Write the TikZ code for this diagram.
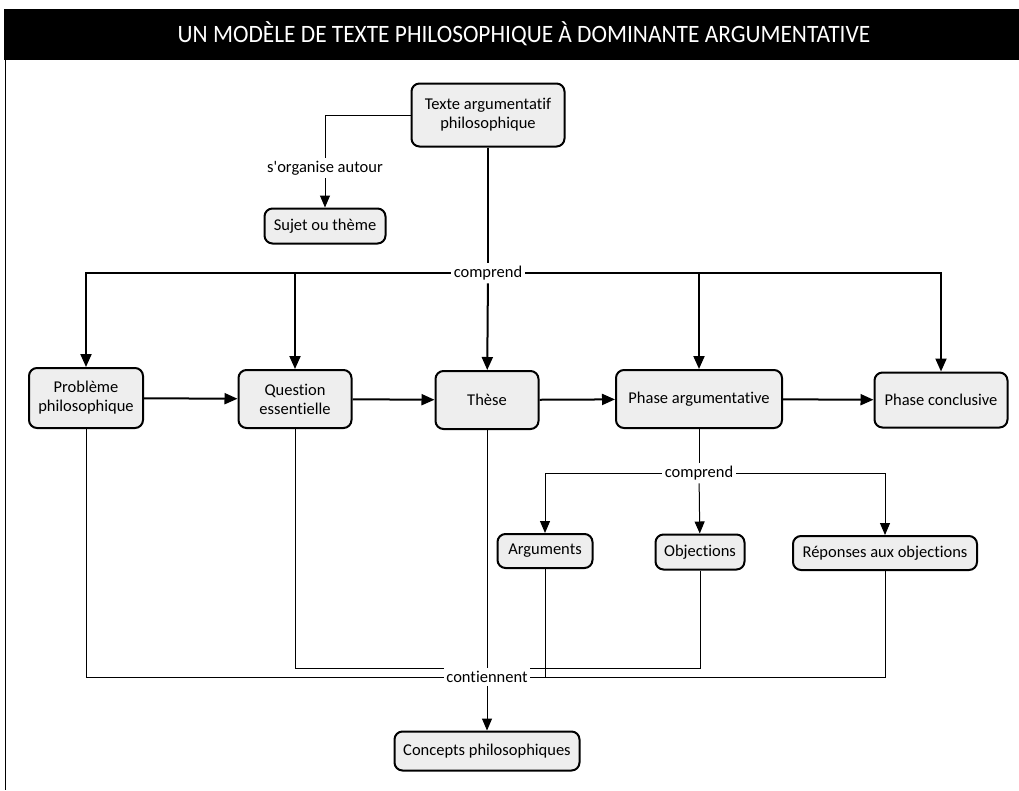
\documentclass[tikz,border=0pt]{standalone}
\usepackage{fontspec}
\setmainfont[Ligatures={NoCommon,TeXOff}]{Carlito}
\newfontfamily\titlefont[FakeStretch=0.935]{Carlito}
\usepackage{tikz}
\usetikzlibrary{arrows.meta}
\usetikzlibrary{positioning}

\tikzset{
  concept/.style={draw=black, line width=2pt, rounded corners=8pt, fill=gray!13,
    align=center, inner sep=2pt, font=\fontsize{16.5}{19}\selectfont},
  linkword/.style={fill=white, inner sep=3pt, font=\fontsize{16.5}{19}\selectfont},
  mainlink/.style={line width=2pt, -{Triangle[width=11pt,length=13pt]}},
  mainline/.style={line width=2pt},
  sublink/.style={line width=1pt, -{Triangle[width=10pt,length=12pt]}},
  subline/.style={line width=1pt}
}

\begin{document}
\begin{tikzpicture}[x=1pt,y=-1pt]
  \useasboundingbox (0,0) rectangle (1019,790);
  \fill[black] (4,9) rectangle (1019,60);
  \draw[line width=1pt] (5,60) -- (5,790);
  \node[text=white, font=\titlefont\fontsize{25}{29}\selectfont] (titre) at (524,34)
    {UN MODÈLE DE TEXTE PHILOSOPHIQUE À DOMINANTE ARGUMENTATIVE};

  \node[concept, minimum width=153pt, minimum height=63pt] (texte) at (488,115)
    {Texte argumentatif\\philosophique};
  \node[linkword] (organise) at (325,168) {s'organise autour};
  \node[concept, minimum width=121pt, minimum height=35pt] (sujet) at (325,226) {Sujet ou thème};

  \node[linkword] (comp1) at (488,273) {comprend};
  \node[concept, minimum width=114pt, minimum height=60pt] (probleme) at (86,398)
    {Problème\\philosophique};
  \node[concept, minimum width=113pt, minimum height=58pt] (question) at (295,399)
    {Question\\essentielle};
  \node[concept, minimum width=103pt, minimum height=58pt] (these) at (487,400) {Thèse};
  \node[concept, minimum width=166pt, minimum height=58pt] (phasearg) at (699,399)
    {Phase argumentative};
  \node[concept, minimum width=133pt, minimum height=55pt] (phaseconc) at (941,400)
    {Phase conclusive};

  \node[linkword] (comp2) at (699,473) {comprend};
  \node[concept, minimum width=95pt, minimum height=34pt] (arguments) at (545,551) {Arguments};
  \node[concept, minimum width=89pt, minimum height=35pt] (objections) at (700,552) {Objections};
  \node[concept, minimum width=184pt, minimum height=34pt] (reponses) at (885,553)
    {Réponses aux objections};

  \node[linkword, inner xsep=2pt] (cont) at (487,677) {contiennent};
  \node[concept, minimum width=185pt, minimum height=39pt] (concepts) at (487,751)
    {Concepts philosophiques};

  \draw[subline] (texte.west) -| (organise.north);
  \draw[sublink] (organise) -- (sujet);

  \draw[mainline] (texte) -- (comp1);
  \draw[mainlink] (comp1) -- (these);
  \draw[mainlink] (comp1.west) -| (probleme.north);
  \draw[mainlink] (comp1.west) -| (question.north);
  \draw[mainlink] (comp1.east) -| (phasearg.north);
  \draw[mainlink] (comp1.east) -| (phaseconc.north);

  \draw[mainlink] (probleme) -- (question);
  \draw[mainlink] (question) -- (these);
  \draw[mainlink] (these) -- (phasearg);
  \draw[mainlink] (phasearg) -- (phaseconc);

  \draw[subline] (phasearg) -- (comp2);
  \draw[sublink] (comp2) -- (objections);
  \draw[sublink] (comp2.west) -| (arguments.north);
  \draw[sublink] (comp2.east) -| (reponses.north);

  \draw[subline] (these) -- (cont);
  \draw[sublink] (cont) -- (concepts);
  \draw[subline] (probleme.south) |- (cont.west);
  \draw[subline] (question.south) |- ([yshift=9pt]cont.west);
  \draw[subline] (arguments.south) |- (cont.east);
  \draw[subline] (objections.south) |- ([yshift=9pt]cont.east);
  \draw[subline] (reponses.south) |- (cont.east);
\end{tikzpicture}
\end{document}
